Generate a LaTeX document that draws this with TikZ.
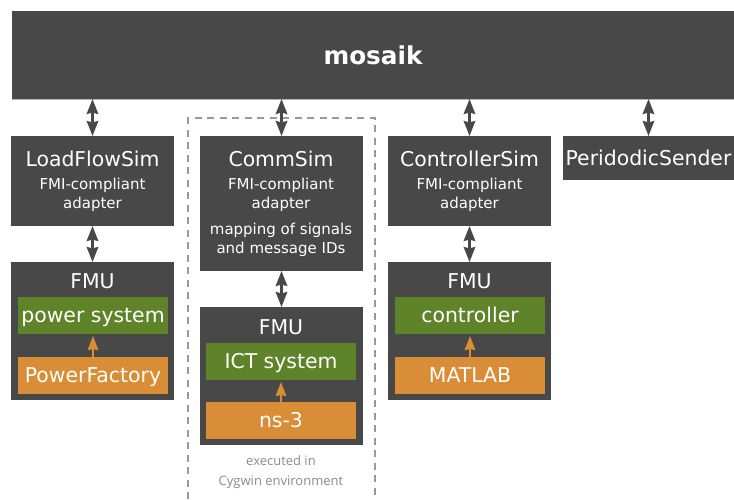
\documentclass[tikz,border=0pt]{standalone}
\usepackage{fontspec}
\setmainfont{DejaVu Sans}
\newfontfamily\notefont{Open Sans}
\usetikzlibrary{arrows.meta}
\definecolor{boxgray}{HTML}{484848}
\definecolor{boxgreen}{HTML}{5F8329}
\definecolor{boxorange}{HTML}{D98D36}
\definecolor{dashgray}{HTML}{999999}
\definecolor{notegray}{HTML}{8C8C8C}
\tikzset{
  x=1pt,y=-1pt,
  area/.style={fill=boxgray,draw=none,inner sep=0pt,outer sep=0pt},
  lbl/.style={text=white,inner sep=0pt,align=center},
  titletext/.style={lbl,font=\fontsize{20.4}{24}\selectfont},
  subtext/.style={lbl,font=\fontsize{15}{19.5}\selectfont},
  strip/.style={text=white,inner sep=0pt,outer sep=0pt,minimum width=150pt,minimum height=37pt,text height=17pt,text depth=3pt,font=\fontsize{20.4}{24}\selectfont},
  greenstrip/.style={strip,fill=boxgreen},
  orangestrip/.style={strip,fill=boxorange},
  link/.style={draw=boxgray,line width=2.4pt,{Stealth[length=15pt,width=11.5pt,inset=1.5pt]}-{Stealth[length=15pt,width=11.5pt,inset=1.5pt]}},
  feed/.style={draw=boxorange,line width=2pt,shorten >=2pt,-{Stealth[length=14pt,width=10.5pt,inset=1pt]}},
}
\begin{document}
\begin{tikzpicture}
\useasboundingbox (0,0) rectangle (734,499);
\fill[white] (0,0) rectangle (734,499);
% top
\node[area,minimum width=722pt,minimum height=88pt,anchor=north west,text=white,font=\bfseries\fontsize{24.7}{28}\selectfont] (mosaik) at (12,11) {mosaik};
\draw[black!30,line width=0.8pt] (mosaik.south west) -- (mosaik.south east);
% dashed frame
\coordinate (fa) at (188,499);
\coordinate (fb) at (188,118);
\coordinate (fc) at (375,118);
\coordinate (fd) at (375,499);
\draw[dashgray,line width=1.3pt,dash pattern=on 7pt off 5.5pt] (fa) -- (fb) -- (fc) -- (fd);
% LoadFlowSim
\node[area,minimum width=163pt,minimum height=90pt,anchor=north west] (lf) at (11,136) {};
\node[titletext] (lft) at (92.5,158.5) {LoadFlowSim};
\node[subtext] (lfs) at (92.5,194.7) {FMI-compliant\\adapter};
\node[area,minimum width=163pt,minimum height=138pt,anchor=north west] (lfu) at (11,262) {};
\node[titletext] (lfut) at (92.5,281) {FMU};
\node[greenstrip,anchor=north west] (lfg) at (18,297) {power system};
\node[orangestrip,anchor=north west] (lfo) at (18,357) {PowerFactory};
% CommSim
\node[area,minimum width=163pt,minimum height=135pt,anchor=north west] (cs) at (200,136) {};
\node[titletext] (cst) at (281,158.5) {CommSim};
\node[subtext] (css) at (281,194.7) {FMI-compliant\\adapter};
\node[subtext] (csm) at (281,240) {mapping of signals\\and message IDs};
\node[area,minimum width=163pt,minimum height=138pt,anchor=north west] (csu) at (200,307) {};
\node[titletext] (csut) at (281,327) {FMU};
\node[greenstrip,anchor=north west] (csg) at (206,343) {ICT system};
\node[orangestrip,anchor=north west] (cso) at (206,402) {ns-3};
\node[inner sep=0pt,align=center,text=notegray,font=\notefont\fontsize{13}{20}\selectfont] (csn) at (281,472.5) {executed in\\Cygwin environment};
% ControllerSim
\node[area,minimum width=163pt,minimum height=90pt,anchor=north west] (ct) at (388,136) {};
\node[titletext] (ctt) at (469.5,158.5) {ControllerSim};
\node[subtext] (cts) at (469.5,194.7) {FMI-compliant\\adapter};
\node[area,minimum width=163pt,minimum height=138pt,anchor=north west] (ctu) at (388,262) {};
\node[titletext] (ctut) at (469.5,281) {FMU};
\node[greenstrip,anchor=north west] (ctg) at (395,297) {controller};
\node[orangestrip,anchor=north west] (cto) at (395,357) {MATLAB};
% PeriodicSender
\node[area,minimum width=171pt,minimum height=44pt,anchor=north west,text=white,font=\fontsize{20.4}{24}\selectfont] (ps) at (563,136) {PeridodicSender};
% connectors
\draw[link] (mosaik.south -| lf.north) -- (lf.north);
\draw[link] (mosaik.south -| cs.north) -- (cs.north);
\draw[link] (mosaik.south -| ct.north) -- (ct.north);
\draw[link] (mosaik.south -| ps.north) -- (ps.north);
\draw[link] (lf.south) -- (lfu.north);
\draw[link] (cs.south) -- (csu.north);
\draw[link] (ct.south) -- (ctu.north);
\draw[feed] (lfo.north) -- (lfg.south);
\draw[feed] (cso.north) -- (csg.south);
\draw[feed] (cto.north) -- (ctg.south);
\end{tikzpicture}
\end{document}
